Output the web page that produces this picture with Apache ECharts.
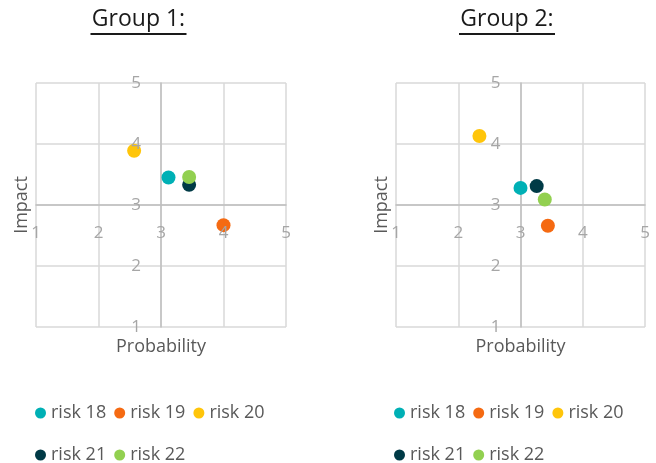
<!DOCTYPE html>
<html>
<head>
<meta charset="utf-8">
<script src="https://cdn.jsdelivr.net/npm/echarts@6/dist/echarts.min.js"></script>
<style>
  html, body { margin: 0; padding: 0; background: #fff; }
  #chart { width: 656px; height: 463px; }
</style>
</head>
<body>
<div id="chart"></div>
<script>
// Risk matrix data: probability (x) and impact (y) per risk, two groups
const riskNames = ['risk 18', 'risk 19', 'risk 20', 'risk 21', 'risk 22'];
const riskColors = ['#00B0B5', '#F56A12', '#FFC50A', '#003A46', '#92D050'];

const group1Probability = [3.12, 4.0, 2.57, 3.45, 3.45];
const group1Impact      = [3.45, 2.67, 3.89, 3.33, 3.46];

const group2Probability = [3.0, 3.44, 2.34, 3.26, 3.39];
const group2Impact      = [3.28, 2.66, 4.13, 3.31, 3.09];

const groupTitles = ['Group 1:', 'Group 2:'];
const scaleMin = 1;
const scaleMax = 5;
const scaleStep = 1;
const xAxisName = 'Probability';
const yAxisName = 'Impact';

const FONT = '"Open Sans", sans-serif';
const grids = [
  { left: 36, top: 83, width: 250, height: 244 },
  { left: 396, top: 83, width: 249, height: 244 }
];

const groups = [
  { x: group1Probability, y: group1Impact },
  { x: group2Probability, y: group2Impact }
];

const xAxes = [];
const yAxes = [];
const series = [];

grids.forEach((g, gi) => {
  const xOff = -g.height / 2;   // horizontal axis crosses at impact = 3
  const yOff = -g.width / 2;    // vertical axis crosses at probability = 3
  // gridlines + crossing axis line (under the markers)
  xAxes.push({
    gridIndex: gi, type: 'value', min: scaleMin, max: scaleMax, interval: scaleStep,
    position: 'bottom', offset: xOff,
    axisLine: { show: true, lineStyle: { color: '#BFBFBF', width: 1.5 } },
    axisTick: { show: false }, axisLabel: { show: false },
    splitLine: { show: true, lineStyle: { color: '#D9D9D9', width: 1.5 } }
  });
  // tick labels + axis title (above the markers)
  xAxes.push({
    gridIndex: gi, type: 'value', min: scaleMin, max: scaleMax, interval: scaleStep,
    position: 'bottom', offset: xOff, z: 6,
    axisLine: { show: false }, axisTick: { show: false }, splitLine: { show: false },
    axisLabel: { show: true, margin: 20, color: '#A6A6A6', fontSize: 17, fontFamily: FONT },
    name: xAxisName, nameLocation: 'middle', nameGap: 133,
    nameTextStyle: { color: '#595959', fontSize: 18, fontFamily: FONT }
  });
  yAxes.push({
    gridIndex: gi, type: 'value', min: scaleMin, max: scaleMax, interval: scaleStep,
    position: 'left', offset: yOff,
    axisLine: { show: true, lineStyle: { color: '#BFBFBF', width: 1.5 } },
    axisTick: { show: false }, axisLabel: { show: false },
    splitLine: { show: true, lineStyle: { color: '#D9D9D9', width: 1.5 } }
  });
  yAxes.push({
    gridIndex: gi, type: 'value', min: scaleMin, max: scaleMax, interval: scaleStep,
    position: 'left', offset: yOff, z: 6,
    axisLine: { show: false }, axisTick: { show: false }, splitLine: { show: false },
    axisLabel: { show: true, margin: 20, color: '#A6A6A6', fontSize: 17, fontFamily: FONT },
    name: yAxisName, nameLocation: 'middle', nameGap: 130,
    nameTextStyle: { color: '#595959', fontSize: 18, fontFamily: FONT }
  });

  riskNames.forEach((name, i) => {
    series.push({
      name: name, type: 'scatter',
      xAxisIndex: gi * 2, yAxisIndex: gi * 2,
      symbol: 'circle', symbolSize: 14,
      itemStyle: { color: riskColors[i], opacity: 1 },
      data: [[groups[gi].x[i], groups[gi].y[i]]]
    });
  });
});

const legendBase = {
  orient: 'horizontal', icon: 'circle', itemWidth: 11, itemHeight: 11,
  itemGap: 8, padding: 0, selectedMode: false,
  textStyle: { color: '#595959', fontSize: 18, fontFamily: FONT }
};
const legendRows = [riskNames.slice(0, 3), riskNames.slice(3)];
const legendLefts = [35, 394];
const legendTops = [404, 446];
const legends = [];
legendLefts.forEach(l => {
  legendRows.forEach((row, r) => {
    legends.push(Object.assign({}, legendBase, { left: l, top: legendTops[r], data: row }));
  });
});

// Underlined group headings
const titleCenters = [138.5, 507];
const titleHalfWidth = 48;
const graphics = [];
groupTitles.forEach((t, i) => {
  graphics.push({
    type: 'text', x: titleCenters[i], y: 31,
    style: {
      text: t, fill: '#1A1A1A', font: '23px ' + FONT,
      textAlign: 'center', textVerticalAlign: 'bottom'
    }
  });
  graphics.push({
    type: 'line',
    shape: { x1: titleCenters[i] - titleHalfWidth, y1: 34, x2: titleCenters[i] + titleHalfWidth, y2: 34 },
    style: { stroke: '#1A1A1A', lineWidth: 2 }
  });
});

const chart = echarts.init(document.getElementById('chart'), null, { renderer: 'canvas' });
chart.setOption({
  backgroundColor: '#ffffff',
  animation: false,
  grid: grids.map(g => Object.assign({ containLabel: false }, g)),
  xAxis: xAxes,
  yAxis: yAxes,
  legend: legends,
  series: series,
  graphic: graphics
});
</script>
</body>
</html>
